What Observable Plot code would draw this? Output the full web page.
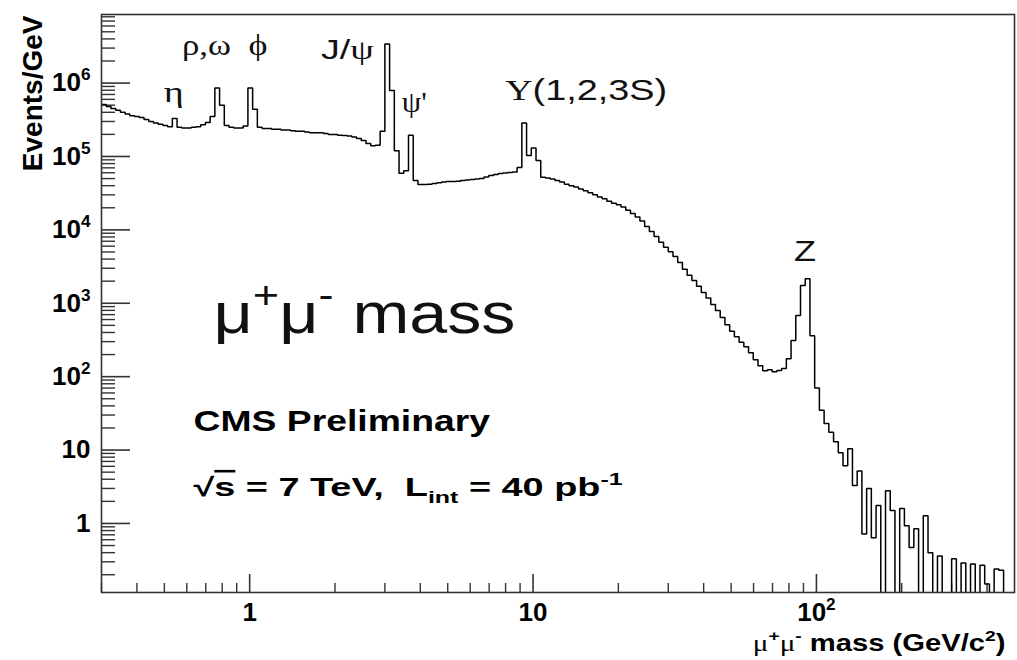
<!DOCTYPE html>
<html>
<head>
<meta charset="utf-8">
<script src="https://cdn.jsdelivr.net/npm/d3@7"></script>
<script src="https://cdn.jsdelivr.net/npm/@observablehq/plot@0.6"></script>
<style>
  html, body { margin: 0; padding: 0; background: #fff; }
  #chart { width: 1017px; height: 660px; }
</style>
</head>
<body>
<div id="chart"></div>
<script>
// Dimuon invariant-mass spectrum: 60 logarithmic bins per decade starting at 0.3 GeV.
const massMin = 0.3;
const binsPerDecade = 60;
const eventsPerGeV = [
  5.1e5, 4.8e5, 4.5e5, 4.25e5, 4.0e5, 3.8e5, 3.6e5, 3.5e5, 3.4e5, 3.2e5,
  3.0e5, 2.85e5, 2.75e5, 2.65e5, 2.55e5, 3.3e5, 2.5e5, 2.45e5, 2.45e5, 2.5e5,
  2.55e5, 2.7e5, 2.9e5, 3.5e5, 8.6e5, 5.0e5, 2.65e5, 2.5e5, 2.45e5, 2.45e5,
  2.6e5, 8.6e5, 4.4e5, 2.5e5, 2.4e5, 2.4e5, 2.35e5, 2.35e5, 2.3e5, 2.3e5,
  2.25e5, 2.2e5, 2.2e5, 2.15e5, 2.1e5, 2.1e5, 2.1e5, 2.05e5, 2.0e5, 2.0e5,
  1.95e5, 1.93e5, 1.9e5, 1.84e5, 1.76e5, 1.65e5, 1.5e5, 1.4e5, 1.42e5, 2.2e5,
  3.4e6, 7.9e5, 1.2e5, 5.9e4, 6.4e4, 1.95e5, 4.7e4, 4.15e4, 4.15e4, 4.2e4,
  4.3e4, 4.4e4, 4.5e4, 4.55e4, 4.55e4, 4.6e4, 4.7e4, 4.8e4, 4.85e4, 4.95e4,
  5.0e4, 5.25e4, 5.5e4, 5.7e4, 5.85e4, 5.95e4, 6.05e4, 6.15e4, 7.1e4, 2.85e5,
  1.03e5, 1.3e5, 8.8e4, 5.2e4, 5.1e4, 4.95e4, 4.7e4, 4.5e4, 4.2e4, 4.0e4,
  3.85e4, 3.6e4, 3.4e4, 3.2e4, 3.0e4, 2.8e4, 2.65e4, 2.45e4, 2.3e4, 2.2e4,
  2.05e4, 1.85e4, 1.67e4, 1.5e4, 1.32e4, 1.11e4, 9.5e3, 8.1e3, 6.8e3, 5.8e3,
  5.05e3, 4.35e3, 3.6e3, 2.9e3, 2.4e3, 2.05e3, 1.7e3, 1.4e3, 1.18e3, 960,
  795, 640, 510, 415, 350, 295, 255, 212, 170, 141,
  120, 124, 117, 121, 129, 176, 310, 680, 1750, 2150,
  360, 70, 35, 23, 17.5, 13, 9.2, 6.1, 10.4, 3.3,
  5.2, 0.72, 3.0, 0.64, 1.75, 0, 2.8, 1.5, 0, 1.6,
  0.93, 0.47, 0.85, 0, 1.27, 0.40, 0, 0.36, 0, 0,
  0.33, 0, 0.29, 0, 0.28, 0, 0.27, 0.15, 0, 0.24,
  0.23, 0, 0, 0
];

// Resonance annotations (label markup: ^{} superscript, _{} subscript, ~{} serif, !{} overline)
const peakNames = ["~{η}", "~{ρ,ω}", "~{ϕ}", "J/~{ψ}", "~{ψ'}", "~{Υ}(1,2,3S)", "Z"];
const peakMasses = [0.548, 0.782, 1.019, 3.097, 3.686, 9.46, 91.19];
const peakLabelHeights = [5.6e5, 2.45e6, 2.45e6, 2.1e6, 4.0e5, 5.8e5, 3.8e3];

const xTickValues = [1, 10, 100];
const xTickLabels = ["1", "10", "10^{2}"];
const yTickValues = [1, 10, 1e2, 1e3, 1e4, 1e5, 1e6];
const yTickLabels = ["1", "10", "10^{2}", "10^{3}", "10^{4}", "10^{5}", "10^{6}"];

const titleText = "μ^{+}μ^{-} mass";
const experimentText = "CMS Preliminary";
const conditionsText = "√!{s} = 7 TeV,  L_{int} = 40 pb^{-1}";
const xAxisTitle = "~{μ}^{+}~{μ}^{-} mass (GeV/c^{2})";
const yAxisTitle = "Events/GeV";

// ---- layout ----
const W = 1017, H = 660;
const M = {top: 14, right: 3, bottom: 68, left: 101};
const innerW = W - M.left - M.right;
const innerH = H - M.top - M.bottom;
const xDomain = [0.3, 500];
const yDomain = [0.1146, 8.6e6];
const zeroFloor = 0.05;           // empty bins fall to the bottom of the frame
const axisColor = "#333";
const sans = "'Liberation Sans', Arial, Helvetica, sans-serif";

const peakLayout = [
  {dx: -2, anchor: "middle", size: 30, width: 20},
  {dx: -13, anchor: "middle", size: 30, width: 49},
  {dx: 6, anchor: "middle", size: 30, width: 19},
  {dx: -15, anchor: "end", size: 27, width: 53},
  {dx: 4, anchor: "middle", size: 30, width: 25},
  {dx: -21, anchor: "start", size: 30, width: 162},
  {dx: 0, anchor: "middle", size: 30, width: 22}
];

// printed widths of the annotation texts (px), keyed by their markup
const printedWidths = new Map([
  ...peakNames.map((n, i) => [n, peakLayout[i].width]),
  [titleText, 302],
  [experimentText, 297],
  [conditionsText, 430],
  [xAxisTitle, 253]
]);

// ---- derived tables ----
const edges = d3.range(eventsPerGeV.length + 1).map(i => massMin * Math.pow(10, i / binsPerDecade));
const histogram = eventsPerGeV.map((v, i) => ({mass: edges[i], events: v > 0 ? v : zeroFloor}));
histogram.push({mass: edges[eventsPerGeV.length], events: histogram[histogram.length - 1].events});

const peaks = peakNames.map((label, i) => ({label, mass: peakMasses[i], at: peakLabelHeights[i]}));

function minorTicks(lo, hi, majors) {
  const out = [];
  for (let e = -2; e <= 8; e++) {
    for (let k = 2; k <= 9; k++) {
      const v = k * Math.pow(10, e);
      if (v > lo && v < hi && !majors.includes(v)) out.push(v);
    }
  }
  return out;
}
const xMinor = minorTicks(xDomain[0], xDomain[1], xTickValues);
const yMinor = minorTicks(yDomain[0], yDomain[1], yTickValues);

const chart = Plot.plot({
  width: W,
  height: H,
  marginTop: M.top,
  marginRight: M.right,
  marginBottom: M.bottom,
  marginLeft: M.left,
  style: {fontFamily: sans, fontSize: "26px", fontWeight: "bold", color: "black", background: "white"},
  x: {type: "log", domain: xDomain},
  y: {type: "log", domain: yDomain},
  marks: [
    Plot.tickY(yMinor, {y: d => d, insetRight: innerW - 14, stroke: axisColor, strokeWidth: 1.4}),
    Plot.tickY(yTickValues, {y: d => d, insetRight: innerW - 29, stroke: axisColor, strokeWidth: 1.6}),
    Plot.tickX(xMinor, {x: d => d, insetTop: innerH - 9, stroke: axisColor, strokeWidth: 1.4}),
    Plot.tickX(xTickValues, {x: d => d, insetTop: innerH - 18, stroke: axisColor, strokeWidth: 1.6}),
    Plot.axisY({ticks: yTickValues, tickFormat: d => yTickLabels[yTickValues.indexOf(d)], tickSize: 0, tickPadding: 11, label: null}),
    Plot.axisX({ticks: xTickValues, tickFormat: d => xTickLabels[xTickValues.indexOf(d)], tickSize: 0, tickPadding: 10, label: null}),
    Plot.line(histogram, {x: "mass", y: "events", curve: "step-after", stroke: "black", strokeWidth: 1.5, strokeLinejoin: "miter", clip: true}),
    Plot.frame({stroke: axisColor, strokeWidth: 1.6}),
    ...peaks.map((p, i) => Plot.text([p], {
      x: "mass", y: "at", text: "label",
      dx: peakLayout[i].dx, textAnchor: peakLayout[i].anchor, lineAnchor: "bottom",
      fontSize: peakLayout[i].size, fontWeight: "normal", fill: "#111"
    })),
    Plot.text([titleText], {text: d => d, frameAnchor: "top-left", textAnchor: "start", lineAnchor: "bottom",
      dx: 112, dy: 318, fontSize: 58, fontWeight: "normal", fill: "#111"}),
    Plot.text([experimentText], {text: d => d, frameAnchor: "top-left", textAnchor: "start", lineAnchor: "bottom",
      dx: 92, dy: 416, fontSize: 30}),
    Plot.text([conditionsText], {text: d => d, frameAnchor: "top-left", textAnchor: "start", lineAnchor: "bottom",
      dx: 92, dy: 481, fontSize: 26}),
    Plot.text([xAxisTitle], {text: d => d, frameAnchor: "bottom-right", textAnchor: "end", lineAnchor: "bottom",
      dx: -9, dy: 58, fontSize: 23}),
    Plot.text([yAxisTitle], {text: d => d, frameAnchor: "top-left", textAnchor: "end", lineAnchor: "bottom",
      rotate: -90, dx: -60, dy: 1, fontSize: 28})
  ]
});

document.getElementById("chart").appendChild(chart);

const SVGNS = "http://www.w3.org/2000/svg";

// Turn the small markup into tspans (superscripts, subscripts, serif glyphs, overline).
function richText(el) {
  const raw = el.textContent;
  if (!/[\^_~!]\{/.test(raw)) return;
  const F = parseFloat(getComputedStyle(el).fontSize);
  const re = /([\^_~!])\{([^}]*)\}/g;
  const parts = [];
  let last = 0, m;
  while ((m = re.exec(raw))) {
    if (m.index > last) parts.push({kind: "", s: raw.slice(last, m.index)});
    parts.push({kind: m[1], s: m[2]});
    last = re.lastIndex;
  }
  if (last < raw.length) parts.push({kind: "", s: raw.slice(last)});
  el.textContent = "";
  let shift = 0;
  for (const p of parts) {
    const t = document.createElementNS(SVGNS, "tspan");
    const target = p.kind === "^" ? -0.42 * F : p.kind === "_" ? 0.3 * F : 0;
    if (target !== shift) { t.setAttribute("dy", target - shift); shift = target; }
    if (p.kind === "^" || p.kind === "_") t.setAttribute("font-size", 0.66 * F);
    if (p.kind === "~") { t.setAttribute("font-family", "'Liberation Serif', 'Times New Roman', serif"); t.setAttribute("font-weight", "normal"); }
    if (p.kind === "!") t.setAttribute("text-decoration", "overline");
    t.textContent = p.s;
    el.appendChild(t);
  }
}

// Collect the annotation texts before their markup is rewritten.
const toStretch = [];
d3.select(chart).selectAll("text").each(function() {
  const raw = this.textContent;
  if (printedWidths.has(raw)) toStretch.push([this, printedWidths.get(raw)]);
});
d3.select(chart).selectAll("text").each(function() { richText(this); });

// Widen annotation texts horizontally to their printed widths, keeping the anchor fixed.
for (const [el, target] of toStretch) {
  const w = el.getBBox().width;
  if (!w) continue;
  const x = +el.getAttribute("x") || 0;
  const t = el.getAttribute("transform") || "";
  el.setAttribute("transform", `${t} translate(${x},0) scale(${target / w},1) translate(${-x},0)`);
}
</script>
</body>
</html>
